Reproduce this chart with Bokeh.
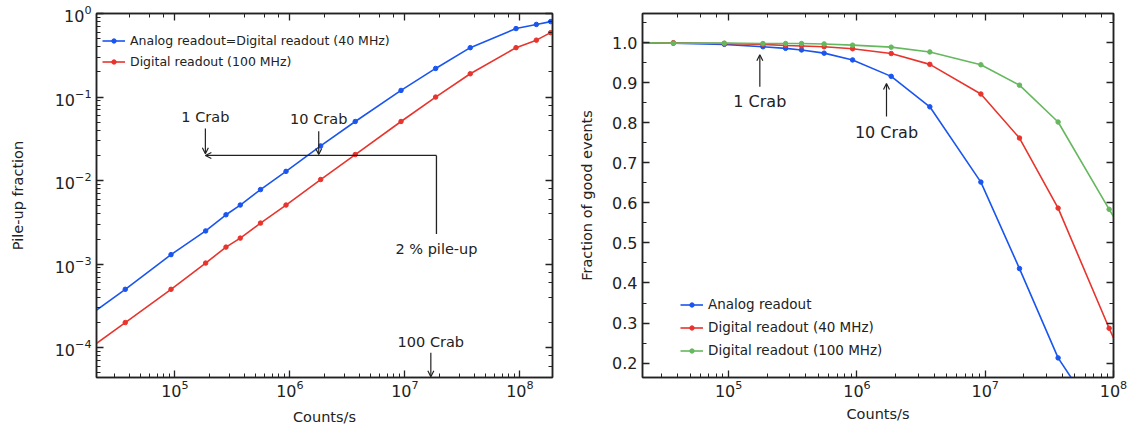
from bokeh.plotting import figure
from bokeh.layouts import row
from bokeh.models import (LogAxis, LinearAxis, Arrow, OpenHead, Range1d, Label,
                          SingleIntervalTicker, PrintfTickFormatter, LogTicker)
from bokeh.embed import file_html
from bokeh.resources import INLINE

# ---------------- data ----------------
counts = [1.85e4, 3.7e4, 9.25e4, 1.85e5, 2.78e5, 3.7e5, 5.55e5, 9.25e5, 1.85e6,
          3.7e6, 9.25e6, 1.85e7, 3.7e7, 9.25e7, 1.39e8, 1.85e8]
pileup_analog = [2.5e-4, 5.0e-4, 1.3e-3, 2.5e-3, 3.9e-3, 5.1e-3, 7.8e-3, 1.29e-2,
                 2.6e-2, 5.1e-2, 0.12, 0.22, 0.39, 0.66, 0.74, 0.80]
pileup_digital100 = [1.0e-4, 2.0e-4, 5.0e-4, 1.03e-3, 1.6e-3, 2.05e-3, 3.1e-3, 5.1e-3,
                     1.03e-2, 2.05e-2, 5.1e-2, 0.10, 0.19, 0.39, 0.48, 0.59]

counts_r = counts[:15]
good_analog = [1.0, 0.999, 0.996, 0.990, 0.986, 0.982, 0.974, 0.957, 0.916, 0.840,
               0.652, 0.436, 0.213, 0.02]
good_digital40 = [1.0, 1.0, 0.998, 0.996, 0.993, 0.992, 0.990, 0.985, 0.973, 0.946,
                  0.872, 0.762, 0.587, 0.287, 0.16]
good_digital100 = [1.0, 0.999, 0.999, 0.998, 0.998, 0.998, 0.997, 0.994, 0.989, 0.977,
                   0.945, 0.894, 0.802, 0.584, 0.49]

crab_left = [1.84e5, 1.78e6, 1.68e7]       # 1, 10, 100 Crab arrow positions
pileup_limit = 0.02
limit_end_x = 1.88e7
crab_right = [1.75e5, 1.7e6]

BLUE = "#1a55f0"
RED = "#e8342c"
GREEN = "#66b85e"
INK = "#222222"
FONT = "DejaVu Sans"


def style_axis(ax, labels=True, tick_size="16px", label_size="14.5px"):
    ax.major_tick_in = 7
    ax.major_tick_out = 0
    ax.minor_tick_in = 4
    ax.minor_tick_out = 0
    ax.axis_line_color = INK
    ax.axis_line_width = 1.5
    ax.major_tick_line_color = INK
    ax.minor_tick_line_color = INK
    ax.major_tick_line_width = 1.3
    ax.minor_tick_line_width = 1.0
    ax.major_label_text_font = FONT
    ax.axis_label_text_font = FONT
    ax.axis_label_text_font_style = "normal"
    ax.axis_label_text_font_size = label_size
    ax.axis_label_text_color = INK
    if labels:
        ax.major_label_text_color = INK
        ax.major_label_text_font_size = tick_size
    else:
        ax.major_label_text_alpha = 0
        ax.major_label_text_font_size = "1px"
        ax.major_label_standoff = 0
        ax.axis_label_standoff = 0


def style_legend(lg, size):
    lg.border_line_alpha = 0
    lg.background_fill_alpha = 0
    lg.label_text_font = FONT
    lg.label_text_font_size = size
    lg.label_text_color = INK
    lg.glyph_width = 23
    lg.glyph_height = 11
    lg.label_standoff = 5
    lg.label_height = 20
    lg.padding = 0
    lg.margin = 0


H = 427

# ---------------- left: pile-up fraction ----------------
p1 = figure(width=568, height=H, x_axis_type="log", y_axis_type="log",
            x_range=Range1d(2.08e4, 1.92e8), y_range=Range1d(4.4e-5, 1.0),
            output_backend="svg", toolbar_location=None,
            min_border_left=96, min_border_right=16, min_border_top=13,
            min_border_bottom=48)
p1.grid.grid_line_color = None
p1.outline_line_color = INK
p1.outline_line_width = 1.5
p1.xaxis.axis_label = "Counts/s"
p1.yaxis.axis_label = "Pile-up fraction"
style_axis(p1.xaxis[0])
style_axis(p1.yaxis[0])
p1.xaxis.major_label_standoff = 2
p1.xaxis.axis_label_standoff = 9
p1.yaxis.major_label_standoff = 5
p1.yaxis.axis_label_standoff = 26
top1 = LogAxis(ticker=LogTicker())
right1 = LogAxis(ticker=LogTicker())
style_axis(top1, labels=False)
style_axis(right1, labels=False)
p1.add_layout(top1, "above")
p1.add_layout(right1, "right")

for ys, col, lab in [(pileup_analog, BLUE, "Analog readout=Digital readout (40 MHz)"),
                     (pileup_digital100, RED, "Digital readout (100 MHz)")]:
    p1.line(counts, ys, line_color=col, line_width=1.6, legend_label=lab)
    p1.scatter(counts, ys, size=4.5, fill_color=col, line_color=col, legend_label=lab)

head = dict(size=6, line_width=1.2, line_color=INK)
# 2% pile-up line
p1.add_layout(Arrow(end=OpenHead(**head), x_start=limit_end_x, y_start=pileup_limit,
                    x_end=crab_left[0], y_end=pileup_limit, line_width=1.3, line_color=INK))
p1.segment(x0=[limit_end_x], y0=[pileup_limit], x1=[limit_end_x], y1=[2.3e-3],
           line_width=1.3, line_color=INK)
# crab arrows
p1.add_layout(Arrow(end=OpenHead(**head), x_start=crab_left[0], y_start=0.042,
                    x_end=crab_left[0], y_end=0.021, line_width=1.2, line_color=INK))
p1.add_layout(Arrow(end=OpenHead(**head), x_start=crab_left[1], y_start=0.039,
                    x_end=crab_left[1], y_end=0.0205, line_width=1.2, line_color=INK))
p1.add_layout(Arrow(end=OpenHead(**head), x_start=crab_left[2], y_start=8.7e-5,
                    x_end=crab_left[2], y_end=4.5e-5, line_width=1.2, line_color=INK))
lab_kw = dict(text_font=FONT, text_font_size="14.5px", text_color=INK,
              text_align="center", text_baseline="middle")
p1.add_layout(Label(x=crab_left[0], y=0.057, text="1 Crab", **lab_kw))
p1.add_layout(Label(x=crab_left[1], y=0.054, text="10 Crab", **lab_kw))
p1.add_layout(Label(x=crab_left[2], y=1.18e-4, text="100 Crab", **lab_kw))
p1.add_layout(Label(x=limit_end_x, y=1.5e-3, text="2 % pile-up", **lab_kw))

lg1 = p1.legend[0]
style_legend(lg1, "12.5px")
lg1.location = (6, 306)
lg1.spacing = 1

# ---------------- right: fraction of good events ----------------
p2 = figure(width=568, height=H, x_axis_type="log",
            x_range=Range1d(2.13e4, 1.0001e8), y_range=Range1d(0.164, 1.073),
            output_backend="svg", toolbar_location=None,
            min_border_left=74, min_border_right=23, min_border_top=13,
            min_border_bottom=44)
p2.grid.grid_line_color = None
p2.outline_line_color = INK
p2.outline_line_width = 1.5
p2.xaxis.axis_label = "Counts/s"
p2.yaxis.axis_label = "Fraction of good events"
p2.yaxis.ticker = SingleIntervalTicker(interval=0.1, num_minor_ticks=2)
p2.yaxis.formatter = PrintfTickFormatter(format="%.1f")
style_axis(p2.xaxis[0])
style_axis(p2.yaxis[0])
p2.xaxis.major_label_standoff = 2
p2.xaxis.axis_label_standoff = 6
p2.yaxis.major_label_standoff = 5
p2.yaxis.axis_label_standoff = 14
top2 = LogAxis(ticker=LogTicker())
right2 = LinearAxis(ticker=SingleIntervalTicker(interval=0.1, num_minor_ticks=2))
style_axis(top2, labels=False)
style_axis(right2, labels=False)
p2.add_layout(top2, "above")
p2.add_layout(right2, "right")

for xs, ys, col, lab in [(counts_r[:len(good_analog)], good_analog, BLUE, "Analog readout"),
                         (counts_r, good_digital40, RED, "Digital readout (40 MHz)"),
                         (counts_r, good_digital100, GREEN, "Digital readout (100 MHz)")]:
    p2.line(xs, ys, line_color=col, line_width=1.6, legend_label=lab)
    p2.scatter(xs, ys, size=4.5, fill_color=col, line_color=col, legend_label=lab)

p2.add_layout(Arrow(end=OpenHead(**head), x_start=crab_right[0], y_start=0.89,
                    x_end=crab_right[0], y_end=0.97, line_width=1.2, line_color=INK))
p2.add_layout(Arrow(end=OpenHead(**head), x_start=crab_right[1], y_start=0.816,
                    x_end=crab_right[1], y_end=0.898, line_width=1.2, line_color=INK))
lab_kw2 = dict(lab_kw, text_font_size="16px")
p2.add_layout(Label(x=crab_right[0], y=0.852, text="1 Crab", **lab_kw2))
p2.add_layout(Label(x=crab_right[1], y=0.777, text="10 Crab", **lab_kw2))

lg2 = p2.legend[0]
style_legend(lg2, "13.5px")
lg2.location = (38, 17)
lg2.spacing = 3

layout = row(p1, p2)
open("out.html", "w").write(file_html(layout, INLINE))
